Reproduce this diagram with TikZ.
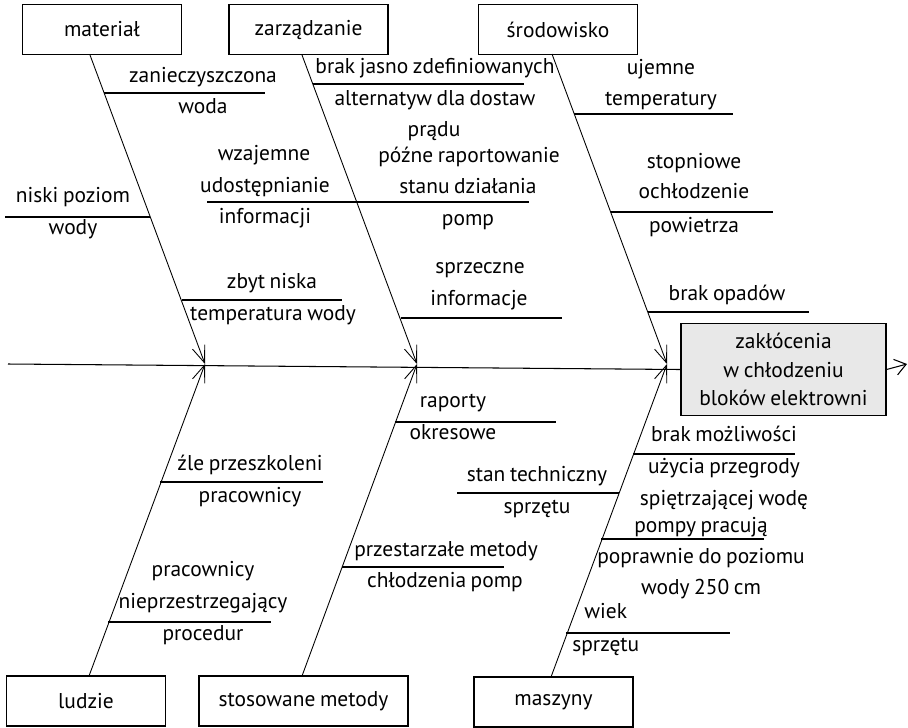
\documentclass[tikz,border=0pt]{standalone}
\usepackage{fontspec}
\setmainfont{PT Sans}[WordSpace=0.8]
\usetikzlibrary{arrows.meta}
\tikzset{
  cat/.style={draw,line width=1.1pt,minimum width=3.18cm,minimum height=1cm,inner sep=0pt},
  effect/.style={draw,line width=0.7pt,fill=gray!18,minimum width=4.1cm,minimum height=1.84cm,align=center,inner sep=0pt},
  bone/.style={line width=0.5pt,-{Straight Barb[length=3.4mm,width=2.6mm]}},
  twig/.style={line width=0.6pt},
  txt/.style={inner sep=0pt,text height=9pt,text depth=3pt}
}

\begin{document}
\begin{tikzpicture}[x=0.02cm,y=-0.02cm,font=\fontsize{12.2}{16.3}\selectfont]
      \useasboundingbox (0,0) rectangle (908,727);
      \node[cat] (mat) at (102,29.5) {materiał};
      \node[cat] (zar) at (308.5,29.5) {zarządzanie};
      \node[cat] (sro) at (558,29.5) {środowisko};
      \node[cat] (lud) at (86,701) {ludzie};
      \node[cat,minimum width=4.18cm] (sto) at (303.5,701) {stosowane metody};
      \node[cat] (masz) at (553.5,702) {maszyny};
      \node[effect] (eff) at (783.5,369.5) {zakłócenia\\w chłodzeniu\\bloków elektrowni};
      \coordinate (sp0) at (8,364);
      \coordinate (out) at (907,364);
      \draw[twig] (sp0) -- (eff.west);
      \draw[twig,-{Straight Barb[length=2.2mm,width=3.2mm]}] (eff.east) -- (out);
      \coordinate (h1) at (205,364);
      \coordinate (h2) at (417,364);
      \coordinate (h3) at (667,364);
      \coordinate (m0) at (90,55);
      \coordinate (z0) at (302,55);
      \coordinate (s0) at (552,54);
      \coordinate (l0) at (89,676);
      \coordinate (t0) at (302,676);
      \coordinate (n0) at (551,677);
      \draw[bone] (m0) -- (h1);
      \draw[bone] (z0) -- (h2);
      \draw[bone] (s0) -- (h3);
      \draw[bone] (l0) -- (h1);
      \draw[bone] (t0) -- (h2);
      \draw[bone] (n0) -- (h3);
      \draw[twig] (104,93) coordinate (ma1) -- (265,93) coordinate (ma1e);
      \node[txt] (zan) at (203,77) {zanieczyszczona};
      \node[txt] (woda) at (203,108) {woda};
      \draw[twig] (5,217) coordinate (ma2e) -- (150,217) coordinate (ma2);
      \node[txt] (nis) at (73,197) {niski poziom};
      \node[txt] (wody) at (73,229) {wody};
      \draw[twig] (182,300) coordinate (ma3) -- (342,300) coordinate (ma3e);
      \node[txt] (zbyt) at (272,283) {zbyt niska};
      \node[txt] (temp) at (273,315) {temperatura wody};
      \draw[twig] (313,84) coordinate (za1) -- (524,84) coordinate (za1e);
      \node[txt] (brak) at (435,68) {brak jasno zdefiniowanych};
      \node[txt] (alt) at (435,100) {alternatyw dla dostaw};
      \node[txt] (prad) at (434,131) {prądu};
      \draw[twig] (207,202) coordinate (za2e) -- (357,202) coordinate (za2);
      \node[txt] (wza) at (264,155) {wzajemne};
      \node[txt] (udo) at (265,187) {udostępnianie};
      \node[txt] (inf) at (265,218) {informacji};
      \draw[twig] (za2) -- (529,202) coordinate (za3e);
      \node[txt] (pozne) at (469,157) {późne raportowanie};
      \node[txt] (stanu) at (468,188) {stanu działania};
      \node[txt] (pomp) at (468,220) {pomp};
      \draw[twig] (401,318) coordinate (za4) -- (562,318) coordinate (za4e);
      \node[txt] (sprz) at (480,268) {sprzeczne};
      \node[txt] (infc) at (479,300) {informacje};
      \draw[twig] (574,114) coordinate (sr1) -- (733,114) coordinate (sr1e);
      \node[txt] (uje) at (661,69) {ujemne};
      \node[txt] (tem) at (661,100) {temperatury};
      \draw[twig] (611,212) coordinate (sr2) -- (773,212) coordinate (sr2e);
      \node[txt] (stop) at (694,163) {stopniowe};
      \node[txt] (ochl) at (694,193) {ochłodzenie};
      \node[txt] (pow) at (694,227) {powietrza};
      \draw[twig] (648,312) coordinate (sr3) -- (809,312) coordinate (sr3e);
      \node[txt] (opad) at (727,295) {brak opadów};
      \draw[twig] (160,482) coordinate (lu1) -- (323,482) coordinate (lu1e);
      \node[txt] (zle) at (250,465) {źle przeszkoleni};
      \node[txt] (prac) at (250,497) {pracownicy};
      \draw[twig] (108,622) coordinate (lu2) -- (271,622) coordinate (lu2e);
      \node[txt] (prac2) at (203,571) {pracownicy};
      \node[txt] (niep) at (203,603) {nieprzestrzegający};
      \node[txt] (proc) at (203,635) {procedur};
      \draw[twig] (395,422) coordinate (st1) -- (556,422) coordinate (st1e);
      \node[txt] (rap) at (453,402) {raporty};
      \node[txt] (okr) at (453,434) {okresowe};
      \draw[twig] (342,567) coordinate (st2) -- (504,567) coordinate (st2e);
      \node[txt] (przes) at (446,551) {przestarzałe metody};
      \node[txt] (chl) at (445,582) {chłodzenia pomp};
      \draw[twig] (633,454) coordinate (ms1) -- (795,454) coordinate (ms1e);
      \node[txt] (moz) at (724,436) {brak możliwości};
      \node[txt] (uzy) at (724,468) {użycia przegrody};
      \node[txt] (spie) at (724,500) {spiętrzającej wodę};
      \draw[twig] (457,493) coordinate (ms2e) -- (619,493) coordinate (ms2);
      \node[txt] (tech) at (537,476) {stan techniczny};
      \node[txt] (sprzet) at (537,508) {sprzętu};
      \draw[twig] (601,539) coordinate (ms3) -- (764,539) coordinate (ms3e);
      \node[txt] (pomy) at (701,527) {pompy pracują};
      \node[txt] (popr) at (701,558) {poprawnie do poziomu};
      \node[txt] (w250) at (701,589) {wody 250 cm};
      \draw[twig] (566,633) coordinate (ms4) -- (730,633) coordinate (ms4e);
      \node[txt,anchor=west] (wiek) at (584,613) {wiek};
      \node[txt,anchor=west] (sprzet2) at (572,646) {sprzętu};
    \end{tikzpicture}
\end{document}
